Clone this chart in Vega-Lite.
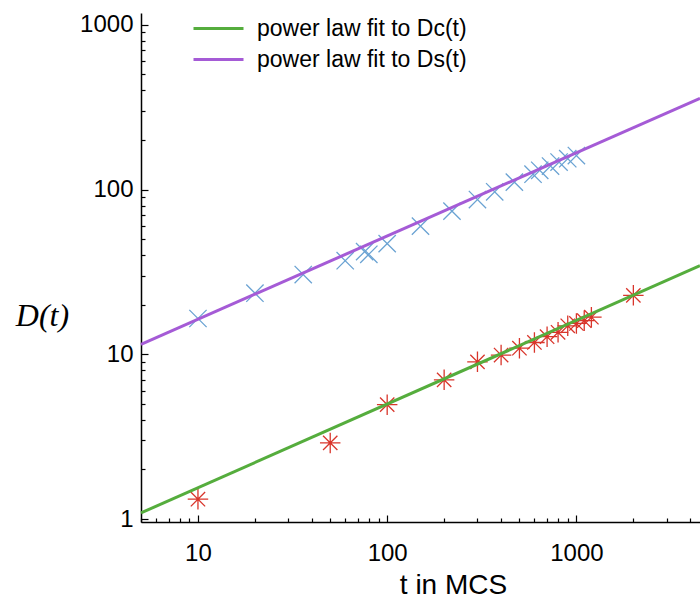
{
  "$schema": "https://vega.github.io/schema/vega-lite/v6.json",
  "width": 559,
  "height": 509,
  "autosize": {"type": "none"},
  "padding": {"left": 141, "top": 13, "right": 0, "bottom": 82},
  "background": "white",
  "config": {
    "view": {"stroke": null},
    "axis": {
      "grid": false,
      "domainColor": "black",
      "domainWidth": 1.5,
      "tickColor": "black",
      "tickWidth": 1.2,
      "labelColor": "black",
      "titleColor": "black",
      "labelFont": "Liberation Sans",
      "labelFontSize": 24,
      "labelFontWeight": "normal"
    }
  },
  "datasets": {
    "fits": [
      {"t": 5, "D": 1.09, "series": "power law fit to Dc(t)"},
      {"t": 4500, "D": 34.5, "series": "power law fit to Dc(t)"},
      {"t": 5, "D": 11.5, "series": "power law fit to Ds(t)"},
      {"t": 4500, "D": 358, "series": "power law fit to Ds(t)"}
    ],
    "dc": [
      {"t": 10, "D": 1.32},
      {"t": 50, "D": 2.9},
      {"t": 100, "D": 4.95},
      {"t": 200, "D": 7.0},
      {"t": 300, "D": 9.0},
      {"t": 400, "D": 9.9},
      {"t": 500, "D": 10.9},
      {"t": 600, "D": 11.8},
      {"t": 700, "D": 12.8},
      {"t": 800, "D": 13.6},
      {"t": 900, "D": 14.9},
      {"t": 1000, "D": 15.4},
      {"t": 1100, "D": 16.0},
      {"t": 1200, "D": 16.8},
      {"t": 2000, "D": 22.8}
    ],
    "ds": [
      {"t": 10, "D": 16.5},
      {"t": 20, "D": 23.5},
      {"t": 36, "D": 30.5},
      {"t": 60, "D": 37},
      {"t": 76, "D": 42},
      {"t": 80, "D": 40.5},
      {"t": 100, "D": 47},
      {"t": 150, "D": 60},
      {"t": 220, "D": 74},
      {"t": 300, "D": 87},
      {"t": 370, "D": 97},
      {"t": 470, "D": 111},
      {"t": 590, "D": 124},
      {"t": 640, "D": 131},
      {"t": 730, "D": 139},
      {"t": 810, "D": 147},
      {"t": 900, "D": 154},
      {"t": 1000, "D": 161}
    ]
  },
  "layer": [
    {
      "data": {"name": "dc"},
      "mark": {"type": "point", "shape": "M-1,0L1,0M0,-1L0,1M-0.7,-0.7L0.7,0.7M-0.7,0.7L0.7,-0.7", "size": 420, "filled": false, "color": "#d9352b", "strokeWidth": 1.3, "opacity": 1},
      "encoding": {
        "x": {
          "field": "t", "type": "quantitative",
          "scale": {"type": "log", "domain": [5, 4500], "nice": false},
          "axis": {
            "values": [5,6,7,8,9,10,20,30,40,50,60,70,80,90,100,200,300,400,500,600,700,800,900,1000,2000,3000,4000],
            "labelExpr": "(datum.value==10||datum.value==100||datum.value==1000) ? format(datum.value,'d') : ''",
            "tickSize": {"condition": {"test": "datum.value==10||datum.value==100||datum.value==1000", "value": -7}, "value": -4},
            "labelPadding": 26,
            "labelFontSize": 24,
            "labelFlush": false,
            "labelOverlap": false,
            "title": "t in MCS",
            "titleFont": "Liberation Sans",
            "titleFontSize": 28,
            "titleFontWeight": "normal",
            "titleX": 312,
            "titleY": 63,
            "titleBaseline": "middle",
            "titleAlign": "center"
          }
        },
        "y": {
          "field": "D", "type": "quantitative",
          "scale": {"type": "log", "domain": [0.96, 1180], "nice": false},
          "axis": {
            "values": [1,2,3,4,5,6,7,8,9,10,20,30,40,50,60,70,80,90,100,200,300,400,500,600,700,800,900,1000],
            "labelExpr": "(datum.value==1||datum.value==10||datum.value==100||datum.value==1000) ? format(datum.value,'d') : ''",
            "tickSize": {"condition": {"test": "datum.value==1||datum.value==10||datum.value==100||datum.value==1000", "value": -7}, "value": -4},
            "labelPadding": 15,
            "labelFontSize": 24,
            "labelFlush": false,
            "labelOverlap": false,
            "title": "D(t)",
            "titleFont": "Liberation Serif",
            "titleFontStyle": "italic",
            "titleFontWeight": "normal",
            "titleFontSize": 32,
            "titleAngle": 0,
            "titleX": -99,
            "titleY": 302,
            "titleAlign": "center",
            "titleBaseline": "middle"
          }
        }
      }
    },
    {
      "data": {"name": "ds"},
      "mark": {"type": "point", "shape": "M-1,-1L1,1M-1,1L1,-1", "size": 300, "filled": false, "color": "#6ba3d3", "strokeWidth": 1.3, "opacity": 1},
      "encoding": {
        "x": {"field": "t", "type": "quantitative"},
        "y": {"field": "D", "type": "quantitative"}
      }
    },
    {
      "data": {"name": "fits"},
      "mark": {"type": "line", "strokeWidth": 3},
      "encoding": {
        "x": {"field": "t", "type": "quantitative"},
        "y": {"field": "D", "type": "quantitative"},
        "color": {
          "field": "series", "type": "nominal",
          "scale": {"domain": ["power law fit to Dc(t)", "power law fit to Ds(t)"], "range": ["#55ad3d", "#a55bd6"]},
          "legend": {
            "title": null,
            "orient": "none",
            "legendX": 66,
            "legendY": 4,
            "padding": 0,
            "symbolType": "M-2.5,0L2.5,0",
            "symbolSize": 400,
            "symbolStrokeWidth": 3,
            "labelFont": "Liberation Sans",
            "labelFontSize": 23,
            "labelColor": "black",
            "labelOffset": 27,
            "rowPadding": 7,
            "labelLimit": 400
          }
        }
      }
    }
  ]
}
